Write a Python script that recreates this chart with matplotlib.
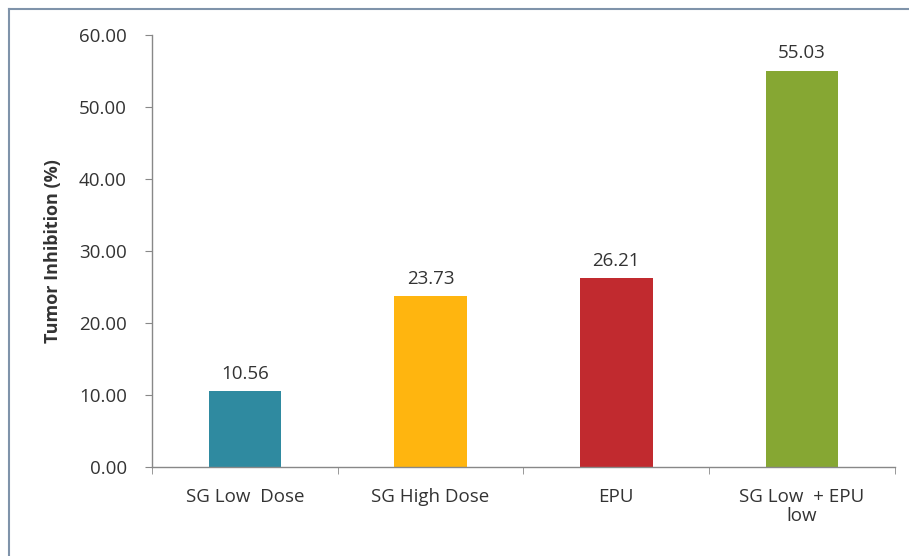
import matplotlib
matplotlib.use("Agg")
import matplotlib.pyplot as plt
from matplotlib.lines import Line2D
from matplotlib.ticker import MultipleLocator, FixedLocator, FormatStrFormatter

categories = ["SG Low  Dose", "SG High Dose", "EPU", "SG Low  + EPU\nlow"]
values = [10.56, 23.73, 26.21, 55.03]
colors = ["#2F8AA0", "#FFB50F", "#C12A2F", "#86A733"]

plt.rcParams["font.family"] = ["Open Sans", "DejaVu Sans"]

fig = plt.figure(figsize=(9.09, 5.56), dpi=100)
ax = fig.add_axes([0.1672, 0.160, 0.8174, 0.777])

x = list(range(len(categories)))
bars = ax.bar(x, values, width=0.39, color=colors, zorder=2)

for xi, v in zip(x, values):
    ax.annotate(f"{v:.2f}", (xi, v), xytext=(0, 6), textcoords="offset points",
                ha="center", va="bottom", fontsize=13.5, color="#333333")

ax.set_xlim(-0.5, len(categories) - 0.5)
ax.set_ylim(0, 60)
ax.yaxis.set_major_locator(MultipleLocator(10))
ax.yaxis.set_major_formatter(FormatStrFormatter("%.2f"))

ax.set_xticks(x)
ax.set_xticklabels(categories, fontsize=13.5, color="#333333", linespacing=1.1)
ax.xaxis.set_minor_locator(FixedLocator([i - 0.5 for i in range(len(categories) + 1)]))
ax.tick_params(axis="x", which="major", length=0, pad=15)
ax.tick_params(axis="x", which="minor", length=5, direction="out", color="#888888")
ax.tick_params(axis="y", length=5, direction="out", color="#888888", pad=13,
               labelsize=13.5, labelcolor="#333333")

for s in ("top", "right"):
    ax.spines[s].set_visible(False)
for s in ("left", "bottom"):
    ax.spines[s].set_color("#888888")
    ax.spines[s].set_linewidth(1.0)

ax.set_ylabel("Tumor Inhibition (%)", fontsize=13, fontweight="bold",
              color="#333333", labelpad=12)

# outer frame on the left and top edges
fig.add_artist(Line2D([9 / 909, 9 / 909], [0, 1 - 9 / 556], transform=fig.transFigure,
                      color="#7F93AA", linewidth=1.5))
fig.add_artist(Line2D([9 / 909, 1], [1 - 9 / 556, 1 - 9 / 556], transform=fig.transFigure,
                      color="#7F93AA", linewidth=1.5))

fig.savefig("out.png", dpi=100)
